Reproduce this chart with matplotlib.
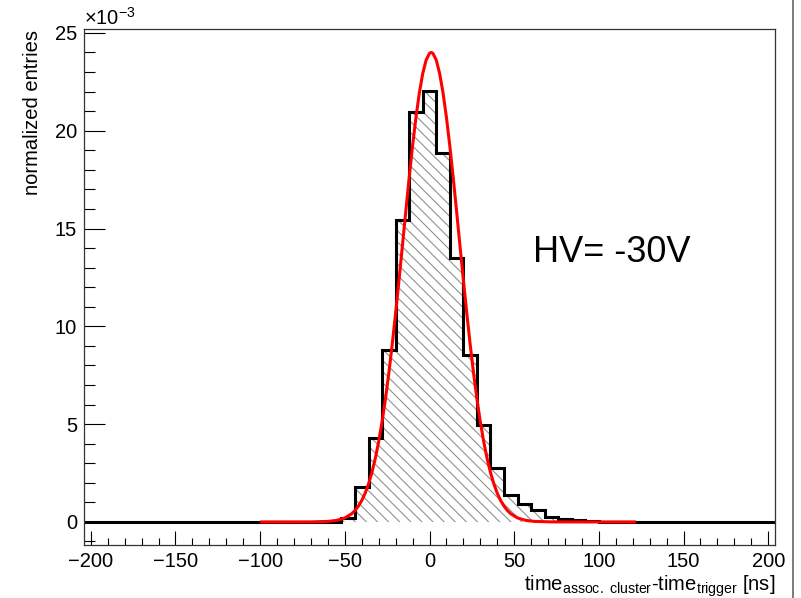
import matplotlib
matplotlib.use("Agg")
import matplotlib.pyplot as plt
import numpy as np
from matplotlib.ticker import MultipleLocator
from matplotlib.lines import Line2D

plt.rcParams['font.family'] = ['Liberation Sans', 'DejaVu Sans']
plt.rcParams['mathtext.fontset'] = 'custom'
plt.rcParams['mathtext.rm'] = 'Liberation Sans'
plt.rcParams['mathtext.it'] = 'Liberation Sans'
plt.rcParams['hatch.linewidth'] = 0.8

# histogram: 51 bins of 8 ns from -204 to 204, values in units of 1e-3
bin_edges = np.arange(-204, 205, 8)
bin_centers = [-56, -48, -40, -32, -24, -16, -8, 0, 8, 16, 24, 32, 40, 48,
               56, 64, 72, 80, 88, 96, 104, 112]
bin_values = [0.02, 0.22, 1.81, 4.31, 8.79, 15.44, 20.95, 22.05, 18.85, 13.51,
              8.54, 4.96, 2.74, 1.38, 0.92, 0.61, 0.27, 0.15, 0.08, 0.04,
              0.02, 0.01]

# fitted curve (units of 1e-3)
fit_x = [-100, -80, -70, -60, -55, -50, -46, -44, -42, -40, -38, -36, -34, -32,
         -30, -28, -26, -24, -22, -20, -18, -16, -14, -12, -10, -8, -6, -4, -2,
         0, 1, 2, 4, 6, 8, 10, 12, 14, 16, 18, 20, 22, 24, 26, 28, 30, 32, 34,
         36, 38, 40, 42, 44, 46, 48, 52, 57, 62, 72, 82, 100, 122]
fit_y = [0.0, 0.0001, 0.0023, 0.026, 0.076, 0.202, 0.415, 0.582, 0.804, 1.096,
         1.470, 1.942, 2.530, 3.248, 4.108, 5.122, 6.293, 7.616, 9.084, 10.68,
         12.37, 14.11, 15.88, 17.60, 19.22, 20.68, 21.93, 22.92, 23.61, 23.96,
         24.0, 23.96, 23.61, 22.92, 21.93, 20.68, 19.22, 17.60, 15.88, 14.11,
         12.37, 10.68, 9.084, 7.616, 6.293, 5.122, 4.108, 3.248, 2.530, 1.942,
         1.470, 1.096, 0.804, 0.582, 0.415, 0.202, 0.076, 0.026, 0.0023,
         0.0001, 0.0, 0.0]

values = np.zeros(len(bin_edges) - 1)
for c, v in zip(bin_centers, bin_values):
    values[int((c + 204) // 8)] = v

fig = plt.figure(figsize=(8.01, 5.98), dpi=100)
ax = fig.add_axes([84/801, 1 - 545/598, (775 - 84)/801, (545 - 29)/598])

# hatched fill + black outline
ax.stairs(values, bin_edges, fill=True, facecolor='none', edgecolor='#909090',
          hatch='\\\\\\', linewidth=0)
ax.stairs(values, bin_edges, baseline=0, color='black', linewidth=2.2)
ax.plot(fit_x, fit_y, color='red', linewidth=2.2, solid_capstyle='butt')

ax.set_xlim(-204, 204)
ax.set_ylim(-1.18, 25.2)
ax.xaxis.set_major_locator(MultipleLocator(50))
ax.xaxis.set_minor_locator(MultipleLocator(10))
ax.yaxis.set_major_locator(MultipleLocator(5))
ax.yaxis.set_minor_locator(MultipleLocator(1))

ax.tick_params(axis='both', which='both', direction='in', top=False, right=False,
               labelsize=14.5, width=0.8, colors='black')
ax.tick_params(axis='x', which='major', length=10, pad=5)
ax.tick_params(axis='x', which='minor', length=5)
ax.tick_params(axis='y', which='major', length=15, pad=5)
ax.tick_params(axis='y', which='minor', length=8)
for s in ax.spines.values():
    s.set_linewidth(0.9)
    s.set_color('#333333')

fig.text(84/801, 1 - 25/598, r'$\times$10$^{-3}$', ha='left', va='baseline', fontsize=14.5)
fig.text(33/801, 1 - 30/598, 'normalized entries', rotation=90, ha='center', va='top',
         fontsize=14.5)
fig.text(775/801, 1 - 591/598,
         r'time$_{\mathrm{assoc.\ cluster}}$-time$_{\mathrm{trigger}}$ [ns]',
         ha='right', va='baseline', fontsize=14.5)
fig.text(533/801, 1 - 262/598, 'HV= -30V', ha='left', va='baseline', fontsize=26)

fig.add_artist(Line2D([793/801, 793/801], [0, 1], color='#666666', linewidth=1.2,
                      transform=fig.transFigure))

fig.savefig('out.png', dpi=100)
